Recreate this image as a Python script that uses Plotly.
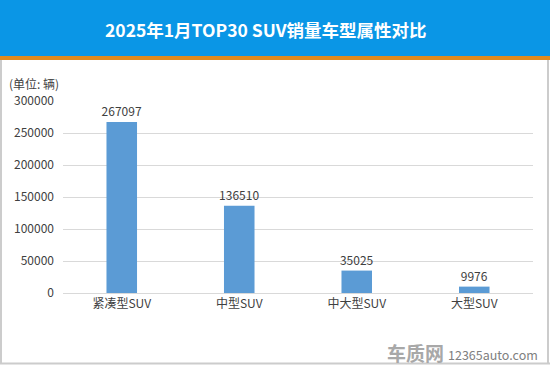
import plotly.graph_objects as go

categories = ["紧凑型SUV", "中型SUV", "中大型SUV", "大型SUV"]
sales = [267097, 136510, 35025, 9976]
tick_vals = [0, 50000, 100000, 150000, 200000, 250000, 300000]
tick_text = ["0", "50000", "100000", "150000", "200000", "250000", "300000"]

FONT = "Noto Sans CJK SC, Microsoft YaHei, sans-serif"

fig = go.Figure()
fig.add_trace(go.Bar(
    x=categories, y=sales,
    marker=dict(color="#5b9bd5", line=dict(width=0)),
    width=0.26,
    text=[str(v) for v in sales],
    textposition="outside",
    constraintext="none",
    textfont=dict(size=12, color="#404040", family=FONT),
    cliponaxis=False,
))

fig.update_layout(
    width=550, height=365,
    margin=dict(l=63, r=17, t=101, b=72),
    paper_bgcolor="white", plot_bgcolor="white",
    showlegend=False,
    font=dict(family=FONT, color="#404040", size=12),
    xaxis=dict(showgrid=False, showline=True, linecolor="#d9d9d9", linewidth=1,
               ticks="", tickfont=dict(size=12, color="#404040"), fixedrange=True),
    yaxis=dict(range=[0, 300000], tickvals=tick_vals, ticktext=tick_text,
               showgrid=True, gridcolor="#d9d9d9", gridwidth=1, zeroline=False,
               showline=False, ticks="", ticklabelstandoff=8,
               tickfont=dict(size=12, color="#404040")),
    shapes=[
        dict(type="rect", xref="paper", yref="paper", x0=-63/470, x1=1+17/470,
             y0=1+(101-56)/192, y1=1+101/192, fillcolor="#0a96e6", line=dict(width=0), layer="above"),
        dict(type="rect", xref="paper", yref="paper", x0=-63/470, x1=1+17/470,
             y0=1+(101-60)/192, y1=1+(101-56)/192, fillcolor="#e08a1e", line=dict(width=0), layer="above"),
        dict(type="line", xref="paper", yref="paper", x0=-62/470, x1=-62/470,
             y0=-71/192, y1=1+(101-60)/192, line=dict(color="#cccccc", width=2)),
        dict(type="line", xref="paper", yref="paper", x0=1+15/470, x1=1+15/470,
             y0=-71/192, y1=1+(101-60)/192, line=dict(color="#cccccc", width=2)),
        dict(type="line", xref="paper", yref="paper", x0=-63/470, x1=1+17/470,
             y0=-70.5/192, y1=-70.5/192, line=dict(color="#cccccc", width=2)),
    ],
    annotations=[
        dict(text="<b>2025年1月TOP30 SUV销量车型属性对比</b>", xref="paper", yref="paper",
             x=(266-63)/470, y=1+(101-29)/192, xanchor="center", yanchor="middle",
             showarrow=False, font=dict(size=17.5, color="white", family=FONT)),
        dict(text="(单位: 辆)", xref="paper", yref="paper",
             x=-56/470, y=1+(101-83)/192, xanchor="left", yanchor="middle",
             showarrow=False, font=dict(size=12, color="#404040", family=FONT)),
        dict(text="<b>车质网</b>", xref="paper", yref="paper",
             x=(446-63)/470, y=-(352-293)/192, xanchor="right", yanchor="middle",
             showarrow=False, font=dict(size=19, color="#a8a8a8", family=FONT)),
        dict(text="12365auto.com", xref="paper", yref="paper",
             x=(446-63)/470, y=-(354-293)/192, xanchor="left", yanchor="middle",
             showarrow=False, font=dict(size=12.5, color="#808080", family=FONT)),
    ],
)

fig.write_html("out.html", config={"displayModeBar": False},
               post_script="document.body.style.margin='0';document.body.style.overflow='hidden';")
